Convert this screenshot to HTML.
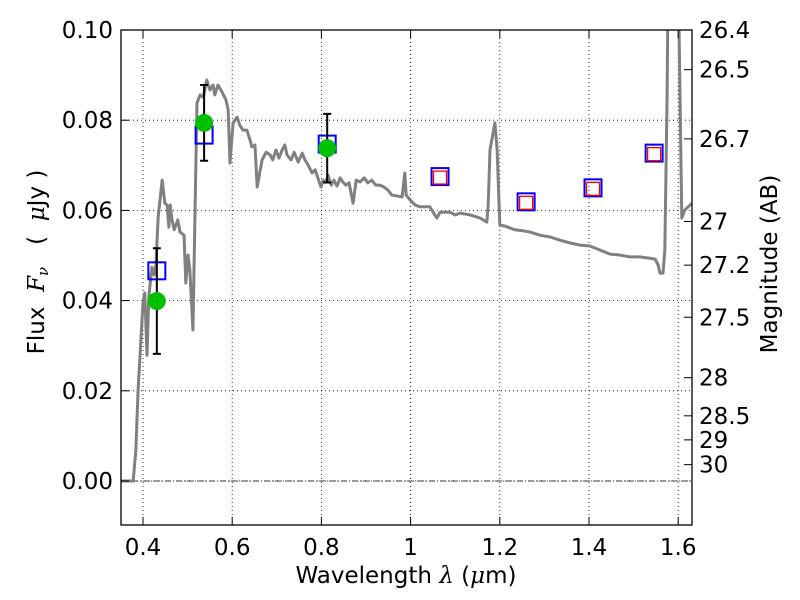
<!DOCTYPE html>
<html><head><meta charset="utf-8"><style>
body{margin:0;background:#fff;}
svg{display:block;font-family:"DejaVu Sans","Liberation Sans",sans-serif;}
</style></head><body>
<svg id="chart" width="800" height="600" viewBox="0 0 800 600" xmlns="http://www.w3.org/2000/svg">
<defs><clipPath id="pc"><rect x="121" y="30" width="571" height="495"/></clipPath></defs>
<rect x="0" y="0" width="800" height="600" fill="#fff"/>
<g id="grid"></g>
<g id="series" clip-path="url(#pc)"></g>
<rect x="121" y="30" width="571" height="495" fill="none" stroke="#000" stroke-width="1.3"/>
<g id="axes"></g>
<text x="406" y="583" font-size="23" text-anchor="middle">Wavelength  <tspan font-style="italic" font-family="DejaVu Serif, serif">λ</tspan> (<tspan font-style="italic" font-family="DejaVu Serif, serif">μ</tspan>m)</text>
<text transform="translate(44,262) rotate(-90)" font-size="23" text-anchor="middle" xml:space="preserve">Flux  <tspan font-style="italic" font-family="DejaVu Serif, serif">F<tspan font-size="15" dy="4">ν</tspan></tspan><tspan dy="-4">   (  </tspan><tspan font-style="italic" font-family="DejaVu Serif, serif">μ</tspan>Jy )</text>
<text transform="translate(777,264) rotate(-90)" font-size="23" text-anchor="middle">Magnitude (AB)</text>
</svg>
<script>
const specWave=[0.351,0.378,0.384,0.389,0.400,0.404,0.409,0.413,0.420,0.425,0.429,0.434,0.443,0.449,0.454,0.458,0.461,0.465,0.470,0.478,0.483,0.492,0.496,0.501,0.505,0.512,0.517,0.521,0.528,0.535,0.543,0.550,0.557,0.561,0.568,0.577,0.586,0.591,0.595,0.602,0.611,0.617,0.624,0.633,0.640,0.644,0.651,0.656,0.667,0.676,0.685,0.691,0.698,0.705,0.712,0.718,0.723,0.732,0.739,0.748,0.757,0.763,0.770,0.779,0.786,0.799,0.804,0.810,0.815,0.822,0.828,0.835,0.842,0.848,0.855,0.862,0.871,0.878,0.887,0.896,0.904,0.913,0.922,0.931,0.940,0.949,0.958,0.981,0.987,0.990,0.999,1.010,1.021,1.043,1.059,1.066,1.088,1.100,1.111,1.133,1.156,1.171,1.174,1.178,1.189,1.194,1.200,1.212,1.223,1.234,1.257,1.268,1.290,1.313,1.335,1.357,1.380,1.402,1.425,1.447,1.469,1.492,1.514,1.536,1.548,1.555,1.559,1.566,1.570,1.575,1.579,1.597,1.602,1.608,1.615,1.631];
const specFlux=[0,0,0.0069,0.0202,0.0395,0.0417,0.0279,0.0408,0.0474,0.0457,0.0479,0.0585,0.0667,0.0616,0.0612,0.0563,0.0612,0.0579,0.0557,0.0579,0.0552,0.0545,0.0439,0.0501,0.0468,0.0335,0.0616,0.0838,0.0856,0.0851,0.0889,0.0867,0.0878,0.0856,0.0878,0.0863,0.0845,0.0823,0.0705,0.0794,0.0807,0.0789,0.0778,0.0778,0.0756,0.0741,0.0745,0.0652,0.0712,0.0729,0.0723,0.0712,0.0734,0.0716,0.0734,0.0745,0.0723,0.0712,0.0729,0.0707,0.0727,0.0712,0.0701,0.0683,0.0690,0.0652,0.0667,0.0663,0.0678,0.0656,0.0667,0.0654,0.0672,0.0663,0.0656,0.0661,0.0616,0.0667,0.0663,0.0672,0.0661,0.0667,0.0656,0.0656,0.0652,0.0645,0.0634,0.0630,0.0683,0.0634,0.0623,0.0612,0.0608,0.0608,0.0583,0.0596,0.0596,0.0590,0.0594,0.0590,0.0583,0.0574,0.0612,0.0734,0.0794,0.0734,0.0568,0.0565,0.0561,0.0557,0.0554,0.0552,0.0545,0.0541,0.0534,0.0528,0.0523,0.0521,0.0512,0.0503,0.0501,0.0497,0.0497,0.0494,0.0492,0.0479,0.0461,0.0461,0.0512,0.0845,0.1288,0.1288,0.0996,0.0583,0.0601,0.0616];
const obsWave=[0.431,0.537,0.813];
const obsFlux=[0.0399,0.0794,0.0738];
const obsErr=[0.0117,0.0084,0.0076];
const modelWave=[0.431,0.537,0.813,1.066,1.259,1.409,1.546];
const modelFlux=[0.0466,0.0767,0.0747,0.0675,0.0619,0.0650,0.0727];
const redWave=[1.066,1.259,1.409,1.546];
const redFlux=[0.0675,0.0619,0.0650,0.0727];
const xTicks=[0.4,0.6,0.8,1.0,1.2,1.4,1.6];
const xTickLabels=["0.4","0.6","0.8","1","1.2","1.4","1.6"];
const yTicks=[0,0.02,0.04,0.06,0.08,0.10];
const yTickLabels=["0.00","0.02","0.04","0.06","0.08","0.10"];
const magTicks=[26.4,26.5,26.7,27,27.2,27.5,28,28.5,29,30];
const magLabels=["26.4","26.5","26.7","27","27.2","27.5","28","28.5","29","30"];

const X=v=>143+(v-0.4)*446;
const Y=v=>481-v*4510;
const NS="http://www.w3.org/2000/svg";
function mk(tag,attrs,parent){const e=document.createElementNS(NS,tag);for(const k in attrs)e.setAttribute(k,attrs[k]);parent.appendChild(e);return e;}
const grid=document.getElementById('grid'),ser=document.getElementById('series'),ax=document.getElementById('axes');

xTicks.forEach((t,i)=>{
  const g=mk('line',{x1:X(t),x2:X(t),y1:30,y2:525,stroke:'#000','stroke-width':0.8,'stroke-dasharray':'1,3'},grid);
  
  
  mk('line',{x1:X(t),x2:X(t),y1:525,y2:517,stroke:'#000','stroke-width':1},ax);
  mk('line',{x1:X(t),x2:X(t),y1:30,y2:38,stroke:'#000','stroke-width':1},ax);
  const l=mk('text',{x:X(t),y:555,'font-size':23,'text-anchor':'middle'},ax);
  l.textContent=xTickLabels[i];
  
  
});
yTicks.forEach((t,i)=>{
  const g=mk('line',{x1:121,x2:692,y1:Y(t),y2:Y(t),stroke:'#000','stroke-width':0.8,'stroke-dasharray':'1,3'},grid);
  
  
  mk('line',{x1:121,x2:129,y1:Y(t),y2:Y(t),stroke:'#000','stroke-width':1},ax);
  const l=mk('text',{x:113,y:Y(t)+8,'font-size':23,'text-anchor':'end'},ax);
  l.textContent=yTickLabels[i];
  
  
});
magTicks.forEach((m,i)=>{
  const y=Y(Math.pow(10,(23.9-m)/2.5));
  mk('line',{x1:684,x2:692,y1:y,y2:y,stroke:'#000','stroke-width':1},ax);
  const l=mk('text',{x:699,y:y+8,'font-size':23},ax);
  l.textContent=magLabels[i];
  
  
});
const zl=mk('line',{x1:121,x2:692,y1:Y(0),y2:Y(0),stroke:'#000','stroke-width':0.8,'stroke-dasharray':'6,2,1,2'},ser);



const sp=mk('polyline',{points:specWave.map((w,i)=>X(w)+','+Y(specFlux[i])).join(' '),fill:'none',stroke:'#808080','stroke-width':3,'stroke-linejoin':'round'},ser);



modelWave.forEach((w,i)=>{
  const r=mk('rect',{x:X(w)-8.5,y:Y(modelFlux[i])-8.5,width:17,height:17,fill:'none',stroke:'#0000ff','stroke-width':2},ser);
  
  
});
redWave.forEach((w,i)=>{
  const r=mk('rect',{x:X(w)-6.5,y:Y(redFlux[i])-5.5,width:13,height:13,fill:'none',stroke:'#ff0000','stroke-width':1.3},ser);
  
  
});
obsWave.forEach((w,i)=>{
  const x=X(w),y1=Y(obsFlux[i]+obsErr[i]),y2=Y(obsFlux[i]-obsErr[i]);
  const e=mk('path',{d:`M${x},${y1}V${y2}M${x-4},${y1}H${x+4}M${x-4},${y2}H${x+4}`,stroke:'#000','stroke-width':2,fill:'none'},ser);
  
  
});
obsWave.forEach((w,i)=>{
  const c=mk('circle',{cx:X(w),cy:Y(obsFlux[i]),r:9,fill:'#00c000'},ser);
  
  
});
</script>
</body></html>
